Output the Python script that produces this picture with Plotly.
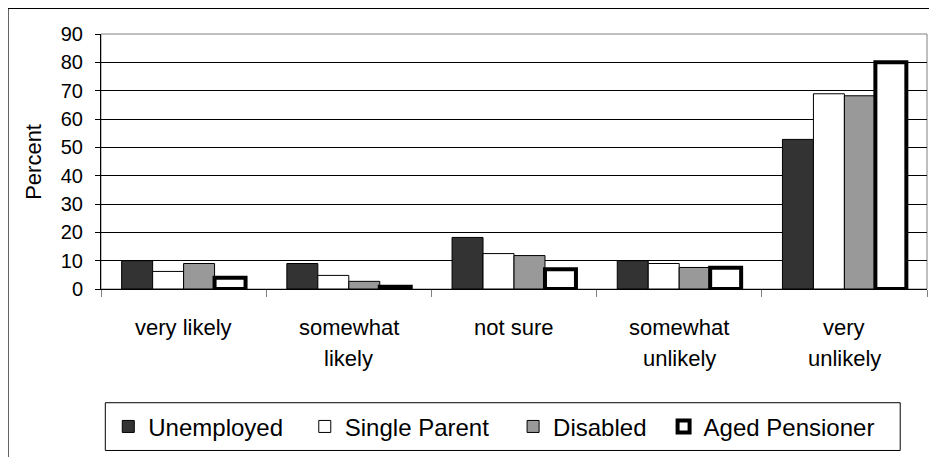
import plotly.graph_objects as go

# ---------------- data ----------------
categories = ["very likely", "somewhat likely", "not sure", "somewhat unlikely", "very unlikely"]
label_line1 = ["very likely", "somewhat", "not sure", "somewhat", "very"]
label_line2 = ["", "likely", "", "unlikely", "unlikely"]

series_names = ["Unemployed", "Single Parent", "Disabled", "Aged Pensioner"]
unemployed = [10, 9, 18.2, 10, 52.8]
single_parent = [6.2, 4.8, 12.5, 9, 68.9]
disabled = [9, 2.7, 11.8, 7.6, 68.2]
aged_pensioner = [4, 0.8, 7, 7.5, 80]
series_values = [unemployed, single_parent, disabled, aged_pensioner]

y_ticks = [0, 10, 20, 30, 40, 50, 60, 70, 80, 90]

# ---------------- styles ----------------
FONT = "Liberation Sans, Arial, sans-serif"
fills = ["#333333", "#ffffff", "#999999", "#ffffff"]
line_widths = [1, 1, 1, 4]
legend_names = ["legend", "legend2", "legend3", "legend4"]
legend_x = [0.0088, 0.2467, 0.4989, 0.6811]

OFF = 8  # page body margin
W, H = 937 - OFF, 457 - OFF
PLOT_L, PLOT_R, PLOT_T, PLOT_B = 101, 927.5, 33.7, 290  # page coords
ML = PLOT_L - OFF
MT = PLOT_T - OFF
MR = W - (PLOT_R - OFF)
MB = H - (PLOT_B - OFF)
PW = PLOT_R - PLOT_L
PH = PLOT_B - PLOT_T


def px_x(x):
    return (x - PLOT_L) / PW


def px_y(y):
    return (PLOT_B - y) / PH


fig = go.Figure()
for i, name in enumerate(series_names):
    fig.add_trace(go.Bar(
        x=categories, y=series_values[i], name=name,
        marker=dict(color=fills[i], line=dict(color="#000000", width=line_widths[i])),
        legend=legend_names[i],
    ))

annotations = []
for c, l1, l2 in zip(categories, label_line1, label_line2):
    annotations.append(dict(x=c, y=px_y(328.5), xref="x", yref="paper", text=l1,
                            showarrow=False, xanchor="center", yanchor="middle",
                            font=dict(family=FONT, size=22, color="#000000")))
    if l2:
        annotations.append(dict(x=c, y=px_y(360), xref="x", yref="paper", text=l2,
                                showarrow=False, xanchor="center", yanchor="middle",
                                font=dict(family=FONT, size=22, color="#000000")))
annotations.append(dict(x=px_x(33.3), y=0.5, xref="paper", yref="paper", text="Percent",
                        textangle=-90, showarrow=False, xanchor="center", yanchor="middle",
                        font=dict(family=FONT, size=22, color="#000000")))

shapes = [
    # outer chart border (left/top visible)
    dict(type="rect", xref="paper", yref="paper", x0=px_x(7.3), x1=px_x(960), y0=px_y(480), y1=px_y(7.3),
         line=dict(color="#000000", width=2.5), fillcolor="rgba(0,0,0,0)", layer="below"),
    # plot area frame
    dict(type="rect", xref="paper", yref="paper", x0=0, x1=1, y0=0, y1=1,
         line=dict(color="#808080", width=1), fillcolor="rgba(0,0,0,0)", layer="below"),
    # legend box
    dict(type="rect", xref="paper", yref="paper", x0=px_x(105.3), x1=px_x(900.7), y0=px_y(452.3), y1=px_y(404.3),
         line=dict(color="#000000", width=1), fillcolor="rgba(0,0,0,0)", layer="below"),
]

layout = dict(
    width=W, height=H,
    margin=dict(l=ML, r=MR, t=MT, b=MB, pad=0),
    paper_bgcolor="#ffffff", plot_bgcolor="#ffffff",
    font=dict(family=FONT, size=20, color="#000000"),
    barmode="group", bargap=0.25, bargroupgap=0,
    xaxis=dict(type="category", showticklabels=False, ticks="outside", tickson="boundaries",
               ticklen=7, tickcolor="#808080", showline=True, linecolor="#000000", linewidth=1,
               showgrid=False, zeroline=False, fixedrange=True),
    yaxis=dict(range=[0, 90], tickvals=y_ticks, ticks="outside", ticklen=5, tickcolor="#000000",
               showline=True, linecolor="#000000", linewidth=1, showgrid=True, gridcolor="#000000",
               gridwidth=1, zeroline=False, ticklabelstandoff=8,
               tickfont=dict(family=FONT, size=20, color="#000000")),
    annotations=annotations,
    shapes=shapes,
    showlegend=True,
)
for i, ln in enumerate(legend_names):
    layout[ln] = dict(x=legend_x[i], y=px_y(427), xref="paper", yref="paper",
                      xanchor="left", yanchor="middle", orientation="h",
                      bgcolor="rgba(0,0,0,0)", borderwidth=0,
                      font=dict(family=FONT, size=24, color="#000000"))

fig.update_layout(**layout)
fig.write_html("out.html")
